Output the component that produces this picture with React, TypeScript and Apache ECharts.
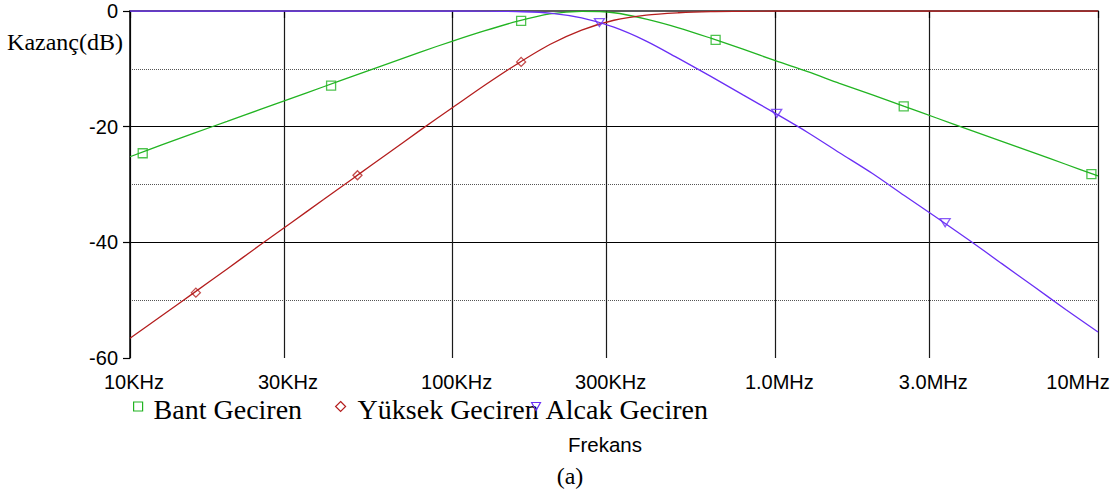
import React, { useEffect, useRef } from 'react';
import * as echarts from 'echarts';

// Frequencies (Hz), 10 points per decade
const freqs = [
  1e4, 1.26e4, 1.58e4, 2e4, 2.51e4, 3.16e4, 3.98e4, 5.01e4, 6.31e4, 7.94e4,
  1e5, 1.26e5, 1.58e5, 2e5, 2.51e5, 3.16e5, 3.98e5, 5.01e5, 6.31e5, 7.94e5,
  1e6, 1.26e6, 1.58e6, 2e6, 2.51e6, 3.16e6, 3.98e6, 5.01e6, 6.31e6, 7.94e6, 1e7,
];

// Gain (dB)
const bantGeciren = [
  -25.2, -23.1, -21.1, -19.1, -17.1, -15.1, -13.1, -11.1, -9.1, -7.1,
  -5.2, -3.4, -1.8, -0.5, -0.05, -0.3, -1.4, -2.9, -4.7, -6.6,
  -8.6, -10.5, -12.5, -14.5, -16.5, -18.5, -20.5, -22.5, -24.5, -26.5, -28.5,
];
const yuksekGeciren = [
  -56.6, -52.6, -48.7, -44.6, -40.6, -36.6, -32.6, -28.6, -24.6, -20.6,
  -16.7, -12.8, -9.2, -5.8, -3.3, -1.6, -0.7, -0.3, -0.1, -0.05,
  0, 0, 0, 0, 0, 0, 0, 0, 0, 0, 0,
];
const alcakGeciren = [
  0, 0, 0, 0, 0, 0, 0, 0, 0, 0,
  0, -0.02, -0.1, -0.35, -1.2, -2.8, -5.2, -8.2, -11.3, -14.5,
  -17.7, -21.0, -24.5, -28.1, -31.9, -35.7, -39.6, -43.6, -47.6, -51.6, -55.5,
];

// Marker points
const bantMarkFreqs = [1.095e4, 4.2e4, 1.63e5, 6.53e5, 2.5e6, 9.54e6];
const bantMarkVals = [-24.6, -12.9, -1.7, -5.0, -16.5, -28.2];
const yuksekMarkFreqs = [1.6e4, 5.07e4, 1.63e5];
const yuksekMarkVals = [-48.7, -28.4, -8.8];
const alcakMarkFreqs = [2.85e5, 1.01e6, 3.36e6];
const alcakMarkVals = [-2.0, -17.7, -36.6];

const tickFreqs = [1e4, 3e4, 1e5, 3e5, 1e6, 3e6, 1e7];
const tickLabels = ['10KHz', '30KHz', '100KHz', '300KHz', '1.0MHz', '3.0MHz', '10MHz'];

const seriesNames = ['Bant Geciren', 'Yüksek Geciren', 'Alcak Geciren'];
const colors = ['#22b422', '#b41e1e', '#6a2ff5'];

const SANS = "'Liberation Sans', Arial, sans-serif";
const SERIF = "'Liberation Serif', 'Times New Roman', serif";

export default function App() {
  const ref = useRef<HTMLDivElement>(null);

  useEffect(() => {
    if (!ref.current) return;
    const chart = echarts.init(ref.current, undefined, { renderer: 'svg' });
    const tickPos = tickFreqs.map((f) => Math.log10(f));
    const toXY = (fs: number[], vs: number[]) => fs.map((f, i) => [Math.log10(f), vs[i]]);

    const labelFor = (v: number) => {
      const i = tickPos.findIndex((p) => Math.abs(p - v) < 1e-6);
      if (i < 0) return '';
      if (i === tickLabels.length - 1) return '{r|' + tickLabels[i] + '}';
      return tickLabels[i];
    };

    const legendBase = (name: string, left: number, icon: string, w: number, h: number, color: string, padLeft: number) => ({
      show: true,
      left,
      top: 395,
      padding: 0,
      selectedMode: false,
      itemWidth: w,
      itemHeight: h,
      data: [{ name, icon, itemStyle: { color: 'rgba(255,255,255,0)', borderColor: color, borderWidth: 1.2 } }],
      formatter: (n: string) => '{t|' + n + '}',
      textStyle: {
        rich: {
          t: { fontSize: 28, fontFamily: SERIF, color: '#000', padding: [5, 0, 0, padLeft] },
        },
      },
    });

    const option: any = {
      animation: false,
      grid: { left: 130, right: 21, top: 11, bottom: 133, containLabel: false },
      xAxis: [
        {
          type: 'value',
          min: 4,
          max: 7,
          position: 'bottom',
          axisLine: { show: true, lineStyle: { color: '#000', width: 1.5 } },
          axisTick: { show: true, length: 7, customValues: tickPos, lineStyle: { color: '#000', width: 1.2 } },
          axisLabel: {
            show: true,
            customValues: tickPos,
            formatter: labelFor,
            fontSize: 20,
            fontFamily: SANS,
            color: '#000',
            margin: 14,
            padding: [0, 0, 0, 8],
            rich: { r: { fontSize: 20, fontFamily: SANS, color: '#000', padding: [0, 48, 0, 0] } },
          },
          splitLine: { show: true, lineStyle: { color: '#1a1a1a', width: 1.2 } },
        },
        {
          type: 'value',
          min: 4,
          max: 7,
          position: 'top',
          axisLine: { show: true, lineStyle: { color: '#666', width: 1.5 } },
          axisTick: { show: false },
          axisLabel: { show: false },
          splitLine: { show: false },
        },
      ],
      yAxis: {
        type: 'value',
        min: -60,
        max: 0,
        interval: 20,
        axisLine: { show: true, lineStyle: { color: '#000', width: 1.5 } },
        axisTick: { show: true, length: 7, lineStyle: { color: '#000', width: 1.2 } },
        axisLabel: { fontSize: 20, fontFamily: SANS, color: '#000', margin: 12, padding: [5, 0, 0, 0] },
        splitLine: { show: true, showMinLine: false, showMaxLine: false, lineStyle: { color: '#000', width: 1.2 } },
        minorTick: { show: false, splitNumber: 2 },
        minorSplitLine: { show: true, lineStyle: { color: '#555', width: 1, type: 'dotted' } },
      },
      legend: [
        legendBase(seriesNames[0], 133, 'rect', 9, 9, colors[0], 6),
        legendBase(seriesNames[1], 335, 'diamond', 10, 10, colors[1], 7),
        legendBase(seriesNames[2], 531, 'path://M0,0L10,0L5,9Z', 9, 8, colors[2], 0),
      ],
      series: [
        { name: seriesNames[0], type: 'line', data: toXY(freqs, bantGeciren), showSymbol: false, smooth: 0.3, lineStyle: { width: 1.3, color: colors[0] }, itemStyle: { color: colors[0] }, z: 3 },
        { name: seriesNames[1], type: 'line', data: toXY(freqs, yuksekGeciren), showSymbol: false, smooth: 0.3, lineStyle: { width: 1.3, color: colors[1] }, itemStyle: { color: colors[1] }, z: 4 },
        { name: seriesNames[2], type: 'line', data: toXY(freqs, alcakGeciren), showSymbol: false, smooth: 0.3, lineStyle: { width: 1.3, color: colors[2] }, itemStyle: { color: colors[2] }, z: 5 },
        { name: seriesNames[0], type: 'scatter', data: toXY(bantMarkFreqs, bantMarkVals), symbol: 'rect', symbolSize: 9, itemStyle: { color: 'rgba(255,255,255,0)', borderColor: colors[0], borderWidth: 1.3 }, z: 6 },
        { name: seriesNames[1], type: 'scatter', data: toXY(yuksekMarkFreqs, yuksekMarkVals), symbol: 'diamond', symbolSize: 9, itemStyle: { color: 'rgba(255,255,255,0)', borderColor: colors[1], borderWidth: 1.3 }, z: 6 },
        { name: seriesNames[2], type: 'scatter', data: toXY(alcakMarkFreqs, alcakMarkVals), symbol: 'triangle', symbolRotate: 180, symbolSize: [10, 8], itemStyle: { color: 'rgba(255,255,255,0)', borderColor: colors[2], borderWidth: 1.3 }, z: 6 },
      ],
      graphic: [
        { type: 'text', x: 123, y: 42, style: { text: 'Kazanç(dB)', fontSize: 24, fontFamily: SERIF, fill: '#000', align: 'right', verticalAlign: 'middle' } },
        { type: 'text', x: 605, y: 444.5, style: { text: 'Frekans', fontSize: 20.5, fontFamily: SANS, fill: '#000', align: 'center', verticalAlign: 'middle' } },
        { type: 'text', x: 570, y: 476, style: { text: '(a)', fontSize: 24, fontFamily: SERIF, fill: '#000', align: 'center', verticalAlign: 'middle' } },
      ],
    };
    chart.setOption(option);
    return () => chart.dispose();
  }, []);

  return <div ref={ref} style={{ position: 'absolute', left: 0, top: 0, width: 1119, height: 491, background: '#fff' }} />;
}
